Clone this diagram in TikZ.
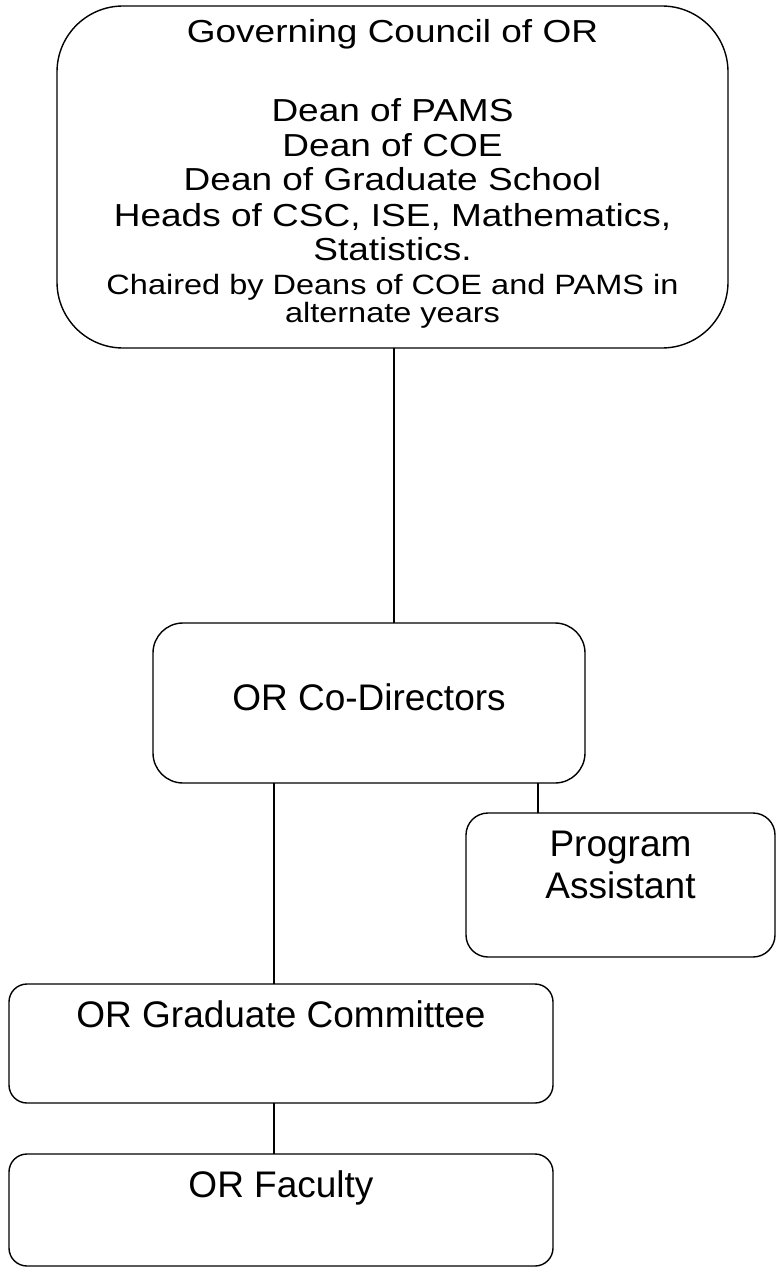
\documentclass[tikz,border=0pt]{standalone}
\usepackage{graphicx}
\usepackage{fontspec}
\setmainfont{Liberation Sans}
\newcommand\orgmainsz{\fontsize{37}{42.6}\selectfont}
\newcommand\orgsmallsz{\fontsize{32.5}{36.8}\selectfont}
\newcommand\sq[1]{\scalebox{1}[0.86]{#1}}
\tikzset{
  orgbox/.style={draw=black, line width=1.4pt, rounded corners=#1, inner sep=0pt, outer sep=0pt, anchor=north west},
  bigtxt/.style={anchor=base, inner sep=0pt, font=\orgmainsz},
  smalltxt/.style={anchor=base, inner sep=0pt, font=\orgsmallsz},
  link/.style={draw=black, line width=1.4pt}
}
\begin{document}
\begin{tikzpicture}[x=1pt,y=1pt]
\useasboundingbox (0,0) rectangle (776,-1268);
% boxes
\node[orgbox=66pt, minimum width=671pt, minimum height=342pt] (gc) at (57,-6) {};
\node[orgbox=30pt, minimum width=432pt, minimum height=160pt] (cod) at (153,-623) {};
\node[orgbox=22pt, minimum width=309pt, minimum height=144pt] (pa) at (466,-813) {};
\node[orgbox=18pt, minimum width=544pt, minimum height=119pt] (grad) at (9,-984) {};
\node[orgbox=18pt, minimum width=544pt, minimum height=112pt] (fac) at (9,-1154) {};
% texts
\node[bigtxt] (g1) at (392.5,-43) {\sq{Governing Council of OR}};
\node[bigtxt] (g2) at (392.5,-122) {\sq{Dean of PAMS}};
\node[bigtxt] (g3) at (392.5,-157) {\sq{Dean of COE}};
\node[bigtxt] (g4) at (392.5,-191) {\sq{Dean of Graduate School}};
\node[bigtxt] (g5) at (392.5,-226) {\sq{Heads of CSC, ISE, Mathematics,}};
\node[bigtxt] (g6) at (392.5,-260) {\sq{Statistics.}};
\node[smalltxt] (g7) at (392.5,-294) {\sq{Chaired by Deans of COE and PAMS in}};
\node[smalltxt] (g8) at (392.5,-322) {\sq{alternate years}};
\node[bigtxt] (c1) at (369,-710) {OR Co-Directors};
\node[bigtxt] (p1) at (620.5,-856) {Program};
\node[bigtxt] (p2) at (620.5,-898) {Assistant};
\node[bigtxt] (r1) at (281,-1027) {OR Graduate Committee};
\node[bigtxt] (f1) at (281,-1197) {OR Faculty};
% connectors
\draw[link] (gc.south -| 394,0) -- (cod.north -| 394,0);
\draw[link] (cod.south -| 274,0) -- (grad.north -| 274,0);
\draw[link] (cod.south -| 538,0) -- (pa.north -| 538,0);
\draw[link] (grad.south -| 274,0) -- (fac.north -| 274,0);
\end{tikzpicture}
\end{document}
